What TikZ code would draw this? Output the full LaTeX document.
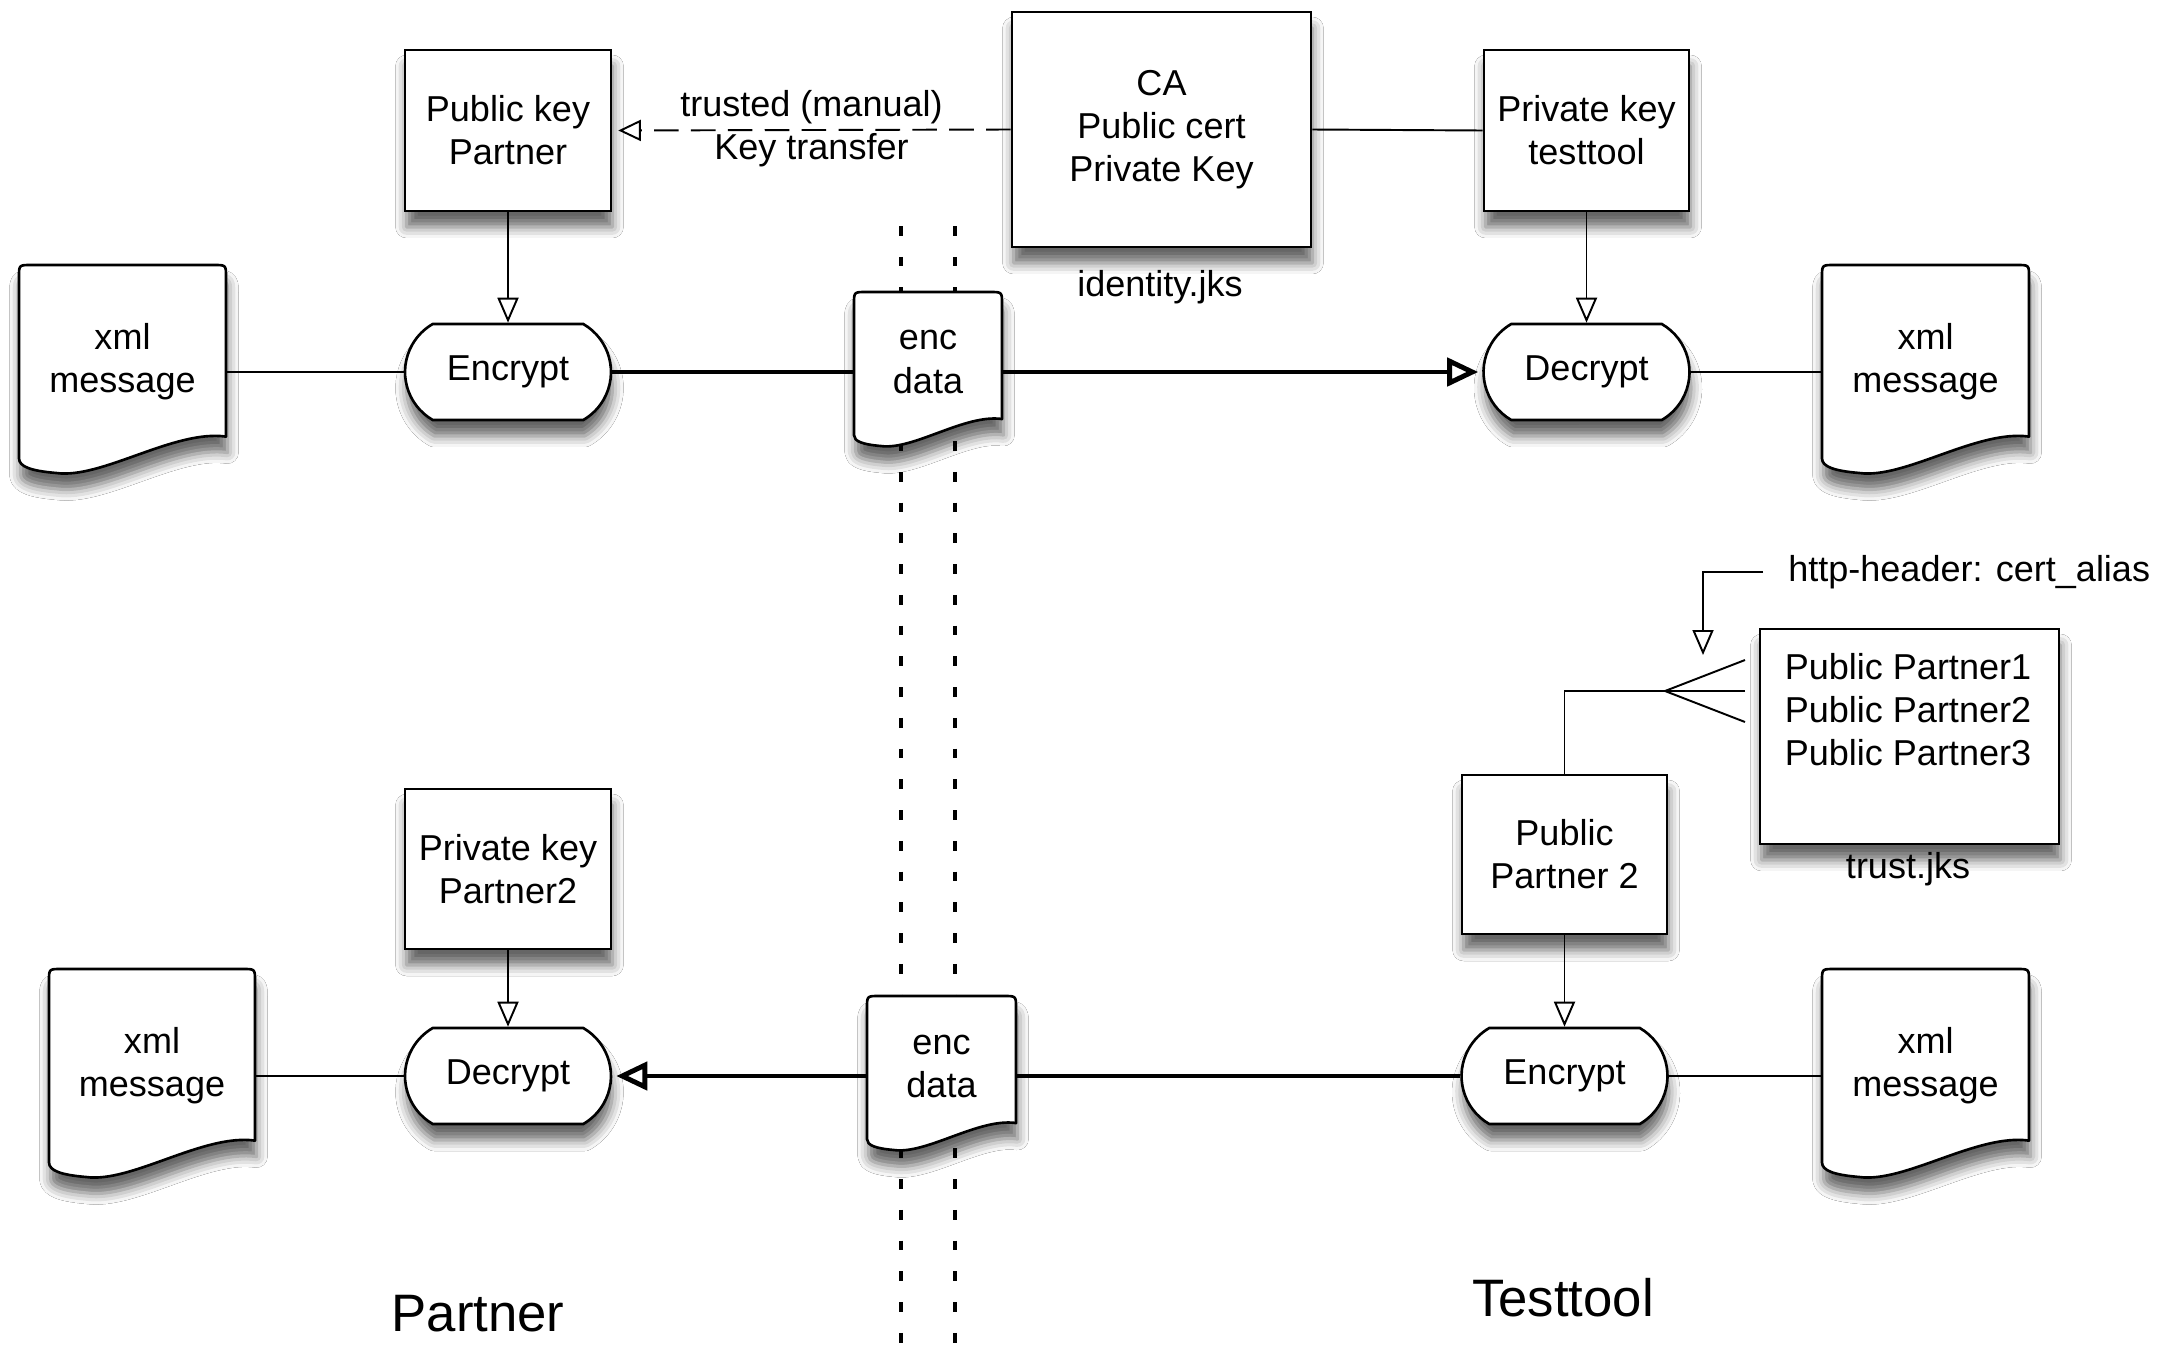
\documentclass[tikz,border=0pt]{standalone}
\usepackage{fontspec}
\setmainfont{Liberation Sans}
\usetikzlibrary{arrows.meta,shapes.misc,shadows.blur,calc}
\tikzset{
  txt/.style={font=\fontsize{20.5}{24.5}\selectfont, align=center, inner sep=0pt},
  bigtxt/.style={font=\fontsize{30}{36}\selectfont, inner sep=0pt},
  shad/.style={blur shadow={shadow xshift=0.03cm, shadow yshift=-0.32cm, shadow blur radius=0.22cm, shadow opacity=60}},
  boxnode/.style={txt, draw, line width=1.5pt, fill=white, shad, rectangle},
  procnode/.style={txt, draw, line width=1.5pt, fill=white, shad, rounded rectangle, rounded rectangle arc length=120, minimum width=4.12cm, minimum height=1.92cm},
  docline/.style={draw, line width=1.5pt, fill=white, shad, line join=round},
  thinline/.style={line width=1.1pt},
  thickline/.style={line width=2.8pt},
  openarrow/.style={thinline, -{Triangle[open, length=0.5cm, width=0.42cm]}},
  thickarrow/.style={thickline, -{Triangle[open, length=0.62cm, width=0.56cm]}},
  dasharrow/.style={thinline, dash pattern=on 14pt off 7pt, -{Triangle[open, length=0.45cm, width=0.42cm]}},
  sepline/.style={line width=2.4pt, dash pattern=on 5.5pt off 12pt},
}
\newcommand\docshape[4]{%
  \pgfmathsetmacro\dcL{#1-#3/2}\pgfmathsetmacro\dcR{#1+#3/2}%
  \pgfmathsetmacro\dcT{#2-#4/2}\pgfmathsetmacro\dcW{#3}\pgfmathsetmacro\dcH{#4}%
  \path[docline]
    ({\dcL},{\dcT+0.93*\dcH}) -- ({\dcL},{\dcT+12}) .. controls ({\dcL},{\dcT}) .. ({\dcL+12},{\dcT})
    -- ({\dcR-12},{\dcT}) .. controls ({\dcR},{\dcT}) .. ({\dcR},{\dcT+12})
    -- ({\dcR},{\dcT+0.825*\dcH})
    .. controls ({\dcR-0.25*\dcW},{\dcT+0.79*\dcH}) and ({\dcL+0.4*\dcW},{\dcT+1.03*\dcH}) .. ({\dcL+0.18*\dcW},{\dcT+\dcH})
    .. controls ({\dcL+0.06*\dcW},{\dcT+0.99*\dcH}) and ({\dcL},{\dcT+0.97*\dcH}) .. cycle;
}
\newcommand\docnode[6]{%
  \docshape{#2}{#3}{#4}{#5}%
  \node[txt, minimum width={#4*0.02cm}] (#1) at ({#2},{#3-7}) {#6};
}
\begin{document}
\begin{tikzpicture}[x=0.02cm, y=-0.02cm]
\useasboundingbox[fill=white] (0,0) rectangle (2173,1349);
% separators
\draw[sepline] (901,226) -- (901,1349);
\draw[sepline] (955,226) -- (955,1349);

% top row
\node[boxnode, minimum width=4.12cm, minimum height=3.22cm] (pkp) at (508,130.5) {Public key\\Partner};
\node[boxnode, minimum width=5.98cm, minimum height=4.70cm] (ca) at (1161.5,129.5) {CA\\Public cert\\Private Key};
\node[txt] (idjks) at (1160,287) {identity.jks};
\node[boxnode, minimum width=4.10cm, minimum height=3.22cm] (pkt) at (1586.5,130.5) {Private key\\testtool};
\node[procnode] (encT) at (508,372) {Encrypt};
\node[procnode] (decT) at (1586.5,372) {Decrypt};
\docnode{xmlTL}{122.5}{369}{207}{208}{xml\\message}
\docnode{encdT}{928}{369}{148}{154}{enc\\data}
\docnode{xmlTR}{1925.5}{369}{207}{208}{xml\\message}

% bottom row
\node[txt, anchor=west] (http) at (1788,572) {http-header: cert\_alias};
\node[boxnode, minimum width=5.98cm, minimum height=4.30cm] (trust) at (1909.5,736.5) {};
\node[txt, align=left] (trusttxt) at (1908,710) {Public Partner1\\Public Partner2\\Public Partner3};
\node[txt] (trustjks) at (1908,869) {trust.jks};
\node[boxnode, minimum width=4.10cm, minimum height=3.18cm] (pp2) at (1564.5,854.5) {Public\\Partner 2};
\node[procnode] (encB) at (1564.5,1076) {Encrypt};
\docnode{xmlBR}{1925.5}{1073}{207}{208}{xml\\message}
\docnode{encdB}{941.5}{1073}{149}{154}{enc\\data}
\node[procnode] (decB) at (508,1076) {Decrypt};
\node[boxnode, minimum width=4.12cm, minimum height=3.20cm] (pkp2) at (508,869) {Private key\\Partner2};
\docnode{xmlBL}{152}{1073}{206}{208}{xml\\message}

\node[bigtxt] (partner) at (478,1314) {Partner};
\node[bigtxt] (testtool) at (1563,1298) {Testtool};

% connectors top
\draw[dasharrow, shorten >=0.12cm] (ca.west) -- (pkp.east)
  node[midway, txt, yshift=0.46cm] (lbl1) {trusted (manual)}
  node[midway, txt, yshift=-0.40cm] (lbl2) {Key transfer};
\draw[thinline] (ca.east) -- (pkt.west);
\draw[openarrow] (pkp.south) -- (encT.north);
\draw[openarrow] (pkt.south) -- (decT.north);
\draw[thinline] (encT.west -| xmlTL.east) -- (encT.west);
\draw[thickline] (encT.east) -- (encT.east -| encdT.west);
\draw[thickarrow, shorten >=0.08cm] (decT.west -| encdT.east) -- (decT.west);
\draw[thinline] (decT.east) -- (decT.east -| xmlTR.west);

% connectors bottom
\coordinate (httptip) at (1703,655);
\draw[openarrow] ([xshift=-0.5cm]http.west) -| (httptip);
\coordinate (cf) at (1665,691);
\coordinate (p1) at (1745,660);
\coordinate (p2) at (1745,691);
\coordinate (p3) at (1745,722);
\draw[thinline] (p1) -- (cf) -- (p3);
\draw[thinline] (p2) -- (cf) -| (pp2.north);
\draw[openarrow] (pp2.south) -- (encB.north);
\draw[thinline] (encB.east) -- (encB.east -| xmlBR.west);
\draw[thickline] (encB.west) -- (encB.west -| encdB.east);
\draw[thickarrow, shorten >=0.08cm] (decB.east -| encdB.west) -- (decB.east);
\draw[openarrow] (pkp2.south) -- (decB.north);
\draw[thinline] (decB.west -| xmlBL.east) -- (decB.west);
\end{tikzpicture}
\end{document}
